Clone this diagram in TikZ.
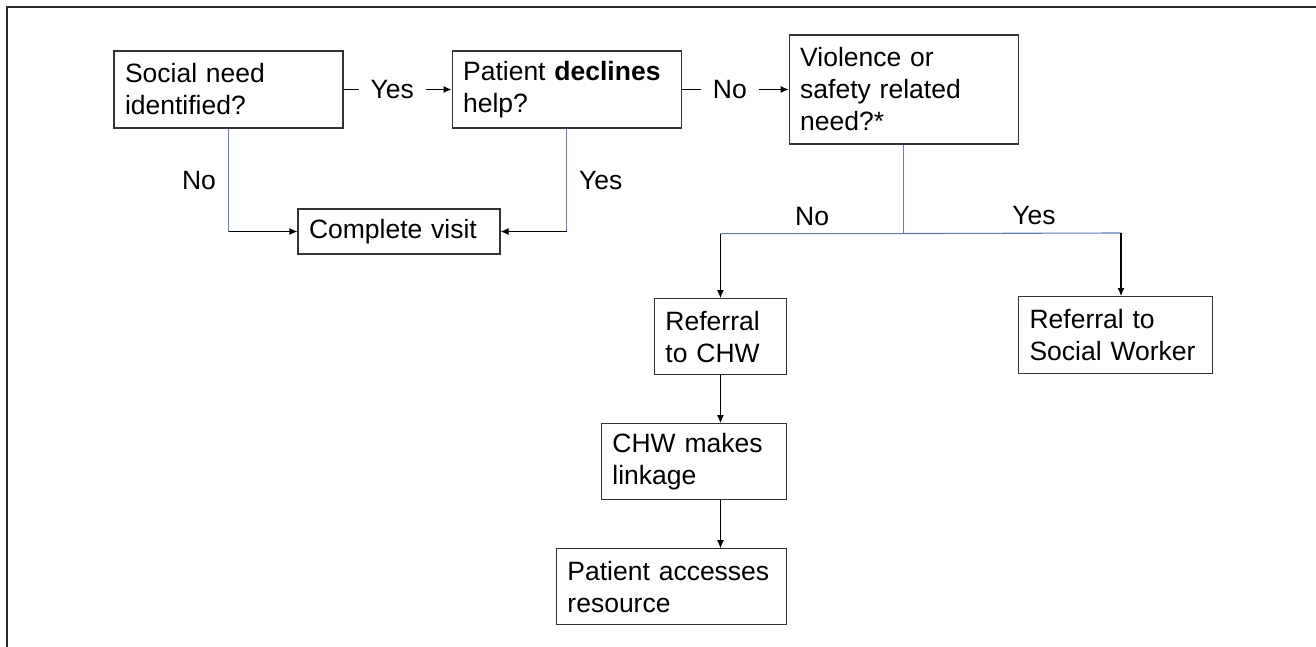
\documentclass[tikz,border=0pt]{standalone}
\usepackage{fontspec}
\setmainfont{Liberation Sans}
\usepackage{xcolor}
\usetikzlibrary{arrows.meta,positioning}
\definecolor{linkblue}{RGB}{96,124,190}
\definecolor{framegray}{RGB}{40,40,40}

\begin{document}
\begin{tikzpicture}[x=1pt,y=-1pt,font=\fontsize{26.5}{32}\selectfont,
  >={Latex[length=8pt,width=7pt]},
  box/.style={draw=black!80,line width=1.1pt,fill=white,align=left,
    inner xsep=11pt,inner ysep=2pt},
  quest/.style={box,text width=207pt,minimum height=77pt},
  lbl/.style={fill=white,text=black,inner xsep=12pt,inner ysep=8pt,text depth=0pt},
  conn/.style={line width=1.1pt,black},
  tree/.style={line width=1.1pt,linkblue}]
\useasboundingbox (0,0) rectangle (1316,647);
% frame, top and left only
\draw[framegray,line width=1.5pt] (7,647) -- (7,7) -- (1316,7);
% top row: the three questions
\node[quest] (need) at (228.5,89.5) {Social need\\identified?};
\node[quest,right=108pt of need] (decl) {Patient \textbf{declines}\\help?};
\node[quest,right=107pt of decl,minimum height=109pt] (viol) {Violence or\\safety related\\need?*};
\draw[conn,->] (need) -- node[lbl,pos=0.45] {Yes} (decl);
\draw[conn,->] (decl) -- node[lbl,pos=0.45] {No} (viol);
% both early exits end in the visit
\node[box,text width=180pt,minimum height=45pt] (visit) at (399,231.5) {Complete visit};
\coordinate (needc) at (need.south |- visit.west);
\coordinate (declc) at (decl.south |- visit.east);
\draw[tree] (need.south) -- node[lbl,left,fill=none] {No} (needc);
\draw[conn,->] (needc) -- (visit.west);
\draw[tree] (decl.south) -- node[lbl,right,fill=none] {Yes} (declc);
\draw[conn,->] (declc) -- (visit.east);
% referral column
\node[box,text width=110pt,minimum height=76pt,anchor=north east] (chw) at (787,298) {Referral\\to CHW};
\node[box,text width=163pt,minimum height=76pt,below=48pt of chw.south east,anchor=north east] (link) {CHW makes\\linkage};
\node[box,text width=208pt,minimum height=76pt,below=48pt of link.south east,anchor=north east] (access) {Patient accesses\\resource};
\node[box,text width=172pt,minimum height=77pt,anchor=north west] (sw) at (1018,296) {Referral to\\Social Worker};
% fork below the violence question
\coordinate (fork) at ([yshift=-89pt]viol.south);
\coordinate (swin) at (1121,233);
\draw[tree] (viol.south) -- (fork);
\draw[tree] (chw.north |- fork) -- node[lbl,above,fill=none] {No} (fork)
  -- node[lbl,above,pos=0.6,fill=none] {Yes} (swin);
\draw[conn,->] (chw.north |- fork) -- (chw.north);
\draw[conn,->] (swin) -- (swin |- sw.north);
\draw[conn,->] (chw.south) -- (chw.south |- link.north);
\draw[conn,->] (chw.south |- link.south) -- (chw.south |- access.north);
\end{tikzpicture}
\end{document}
